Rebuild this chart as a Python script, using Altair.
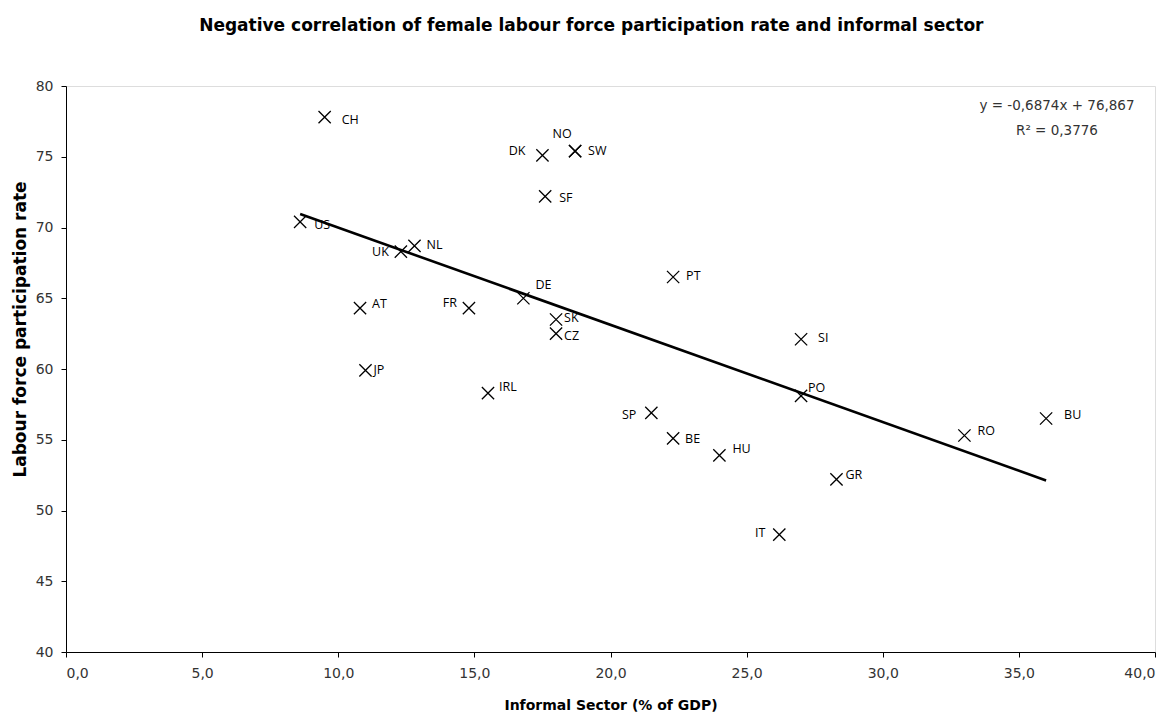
import altair as alt
import pandas as pd

# ---- data ----
countries = ["CH", "US", "UK", "NL", "AT", "JP", "FR", "IRL", "DE", "DK", "NO", "SW", "SF",
             "SK", "CZ", "PT", "SP", "BE", "HU", "IT", "SI", "PO", "GR", "RO", "BU"]
informal_sector = [9.5, 8.6, 12.3, 12.8, 10.8, 11.0, 14.8, 15.5, 16.8, 17.5, 18.7, 18.7, 17.6,
                   18.0, 18.0, 22.3, 21.5, 22.3, 24.0, 26.2, 27.0, 27.0, 28.3, 33.0, 36.0]
participation = [77.8, 70.4, 68.3, 68.7, 64.3, 59.9, 64.3, 58.3, 65.0, 75.1, 75.4, 75.4, 72.2,
                 63.5, 62.5, 66.5, 56.9, 55.1, 53.9, 48.3, 62.1, 58.1, 52.2, 55.3, 56.5]
x_ticks = [0, 5, 10, 15, 20, 25, 30, 35, 40]
y_ticks = [40, 45, 50, 55, 60, 65, 70, 75, 80]
trend_slope = -0.6874
trend_intercept = 76.867
title_text = "Negative correlation of female labour force participation rate and informal sector"
x_title = "Informal Sector (% of GDP)"
y_title = "Labour force participation rate"
eq_line1 = "y = -0,6874x + 76,867"
eq_line2 = "R\u00b2 = 0,3776"

# label placement (pixel offsets, alignment) - styling only
label_place = {
    "CH": (17, 3, "left"), "US": (14, 3, "left"), "UK": (-12, 0, "right"),
    "NL": (12, -1, "left"), "AT": (12, -4, "left"), "JP": (8, 0, "left"),
    "FR": (-12, -5, "right"), "IRL": (11, -6, "left"), "DE": (12, -13, "left"),
    "DK": (-17, -4, "right"), "NO": (-13, -17, "center"), "SW": (13, 0, "left"),
    "SF": (14, 2, "left"), "SK": (8, -1, "left"), "CZ": (8, 2, "left"),
    "PT": (13, -1, "left"), "SP": (-15, 2, "right"), "BE": (12, 1, "left"),
    "HU": (13, -6, "left"), "IT": (-14, -2, "right"), "SI": (17, -1, "left"),
    "PO": (7, -8, "left"), "GR": (9, -4, "left"), "RO": (13, -5, "left"),
    "BU": (18, -4, "left"),
}

df = pd.DataFrame({"country": countries, "x": informal_sector, "y": participation})
xmin, xmax = min(informal_sector), max(informal_sector)
trend = pd.DataFrame({"x": [xmin, xmax],
                      "y": [trend_slope * xmin + trend_intercept, trend_slope * xmax + trend_intercept]})

AX_FONT = "DejaVu Sans"
LBL_FONT = "Open Sans"

xscale = alt.Scale(domain=[0, 40], nice=False, zero=False)
yscale = alt.Scale(domain=[40, 80], nice=False, zero=False)

xenc = alt.X("x:Q", scale=xscale, axis=alt.Axis(
    title=x_title, values=x_ticks, grid=False,
    labelExpr="replace(format(datum.value, '.1f'), '.', ',')",
    tickSize=5, labelPadding=9, titlePadding=18,
    labelFont=AX_FONT, labelFontSize=14, labelColor="#333333",
    titleFont=AX_FONT, titleFontSize=14, titleFontWeight="bold", titleColor="#000000",
    domainColor="#000000", tickColor="#000000"))
yenc = alt.Y("y:Q", scale=yscale, axis=alt.Axis(
    title=y_title, values=y_ticks, grid=False, format="d",
    tickSize=5, labelPadding=8, titlePadding=6, titleY=243,
    labelFont=AX_FONT, labelFontSize=14, labelColor="#333333",
    titleFont=AX_FONT, titleFontSize=17, titleFontWeight="bold", titleColor="#000000",
    domainColor="#000000", tickColor="#000000"))

base = alt.Chart(df)

points = base.mark_point(
    shape="M-1,-1L1,1M-1,1L1,-1", filled=False, size=150,
    stroke="#000000", strokeWidth=1.3, opacity=1
).encode(x=xenc, y=yenc)

line = alt.Chart(trend).mark_line(color="#000000", strokeWidth=2.6).encode(
    x=alt.X("x:Q", scale=xscale), y=alt.Y("y:Q", scale=yscale))

layers = [line, points]
for c in countries:
    dx, dy, al = label_place[c]
    layers.append(
        base.transform_filter(alt.datum.country == c).mark_text(
            dx=dx, dy=dy, align=al, baseline="middle",
            font=LBL_FONT, fontSize=12.5, color="#000000"
        ).encode(x=alt.X("x:Q", scale=xscale), y=alt.Y("y:Q", scale=yscale), text="country:N")
    )

eq_df = pd.DataFrame({"t": [eq_line1, eq_line2], "row": [0, 1]})
eq1 = alt.Chart(eq_df).transform_filter(alt.datum.row == 0).mark_text(
    align="center", baseline="middle", font=AX_FONT, fontSize=13.5, color="#333333"
).encode(text="t:N", x=alt.value(991), y=alt.value(20))
eq2 = alt.Chart(eq_df).transform_filter(alt.datum.row == 1).mark_text(
    align="center", baseline="middle", font=AX_FONT, fontSize=13.5, color="#333333"
).encode(text="t:N", x=alt.value(991), y=alt.value(45))
layers += [eq1, eq2]

chart = alt.layer(*layers).properties(
    width=1089, height=566,
    padding={"left": 3, "top": 9, "right": 0, "bottom": 0},
    title=alt.TitleParams(title_text, font=AX_FONT, fontSize=17, fontWeight="bold",
                          anchor="middle", frame="bounds", offset=44, dx=8, color="#000000"),
).configure_view(stroke=None).configure(background="white")

chart.save("out.html", embed_options={"renderer": "svg", "actions": False})
